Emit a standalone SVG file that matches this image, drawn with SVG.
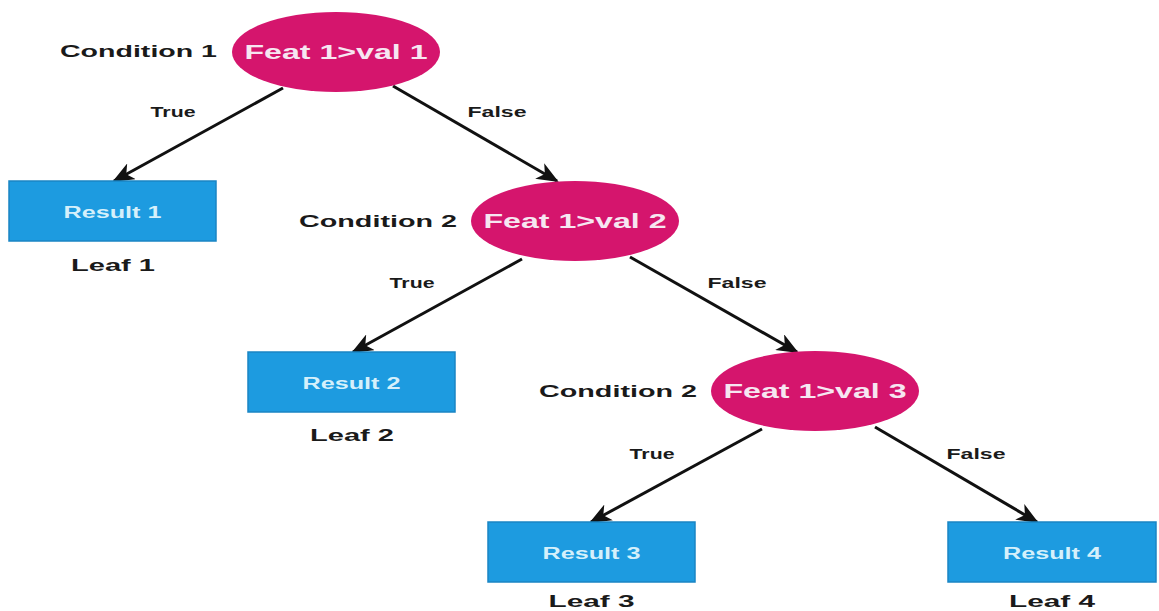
<svg xmlns="http://www.w3.org/2000/svg" width="1159" height="611" viewBox="0 0 1159 611">
<defs>
<marker id="ah" markerWidth="22" markerHeight="18" refX="20" refY="9" orient="auto" markerUnits="userSpaceOnUse" viewBox="0 0 22 18">
<path d="M0,0 L22,9 L0,18 L6,9 Z" fill="#111"/>
</marker>
<style>
.cond{fill:#d5156d;}
.ct{font-family:"Liberation Sans",Arial,sans-serif;font-weight:bold;font-size:20px;fill:#f6e6f1;text-anchor:middle;}
.res{fill:#1d9be0;stroke:#1a85c4;stroke-width:1.5;}
.rt{font-family:"Liberation Sans",Arial,sans-serif;font-weight:bold;font-size:16px;fill:#d5f0fb;text-anchor:middle;}
.lbl{font-family:"Liberation Sans",Arial,sans-serif;font-weight:bold;font-size:17px;fill:#1a1a1a;}
.el{font-family:"Liberation Sans",Arial,sans-serif;font-weight:bold;font-size:15px;fill:#1a1a1a;text-anchor:middle;}
.con{stroke:#111;stroke-width:3;fill:none;marker-end:url(#ah);}
</style>
</defs>
<rect width="1159" height="611" fill="#ffffff"/>
<g id="connectors">
<line class="con" x1="283" y1="88" x2="114" y2="181"/>
<line class="con" x1="393" y1="86" x2="557" y2="181"/>
<line class="con" x1="522" y1="259" x2="353" y2="352"/>
<line class="con" x1="630" y1="257" x2="797" y2="352"/>
<line class="con" x1="762" y1="429" x2="591" y2="522"/>
<line class="con" x1="875" y1="427" x2="1037" y2="522"/>
<text class="el" x="173" y="117" textLength="45" lengthAdjust="spacingAndGlyphs">True</text>
<text class="el" x="497" y="117" textLength="59" lengthAdjust="spacingAndGlyphs">False</text>
<text class="el" x="412" y="288" textLength="45" lengthAdjust="spacingAndGlyphs">True</text>
<text class="el" x="737" y="288" textLength="59" lengthAdjust="spacingAndGlyphs">False</text>
<text class="el" x="652" y="459" textLength="45" lengthAdjust="spacingAndGlyphs">True</text>
<text class="el" x="976" y="459" textLength="59" lengthAdjust="spacingAndGlyphs">False</text>
</g>
<g id="cond1">
<ellipse class="cond" cx="336" cy="52" rx="104" ry="40"/>
<text class="ct" x="336" y="59" textLength="183" lengthAdjust="spacingAndGlyphs">Feat 1&gt;val 1</text>
<text class="lbl" x="60" y="57" textLength="157" lengthAdjust="spacingAndGlyphs">Condition 1</text>
</g>
<g id="cond2">
<ellipse class="cond" cx="575" cy="221" rx="104" ry="40"/>
<text class="ct" x="575" y="228" textLength="183" lengthAdjust="spacingAndGlyphs">Feat 1&gt;val 2</text>
<text class="lbl" x="299" y="227" textLength="158" lengthAdjust="spacingAndGlyphs">Condition 2</text>
</g>
<g id="cond3">
<ellipse class="cond" cx="815" cy="391" rx="104" ry="40"/>
<text class="ct" x="815" y="398" textLength="183" lengthAdjust="spacingAndGlyphs">Feat 1&gt;val 3</text>
<text class="lbl" x="539" y="397" textLength="158" lengthAdjust="spacingAndGlyphs">Condition 2</text>
</g>
<g id="leaf1">
<rect class="res" x="9" y="181" width="207" height="60"/>
<text class="rt" x="112.5" y="218" textLength="98" lengthAdjust="spacingAndGlyphs">Result 1</text>
<text class="lbl" x="113" y="271" text-anchor="middle" textLength="84" lengthAdjust="spacingAndGlyphs">Leaf 1</text>
</g>
<g id="leaf2">
<rect class="res" x="248" y="352" width="207" height="60"/>
<text class="rt" x="351.5" y="389" textLength="98" lengthAdjust="spacingAndGlyphs">Result 2</text>
<text class="lbl" x="352" y="441" text-anchor="middle" textLength="84" lengthAdjust="spacingAndGlyphs">Leaf 2</text>
</g>
<g id="leaf3">
<rect class="res" x="488" y="522" width="207" height="60"/>
<text class="rt" x="591.5" y="559" textLength="98" lengthAdjust="spacingAndGlyphs">Result 3</text>
<text class="lbl" x="591.5" y="607" text-anchor="middle" textLength="86" lengthAdjust="spacingAndGlyphs">Leaf 3</text>
</g>
<g id="leaf4">
<rect class="res" x="948" y="522" width="208" height="60"/>
<text class="rt" x="1052" y="559" textLength="98" lengthAdjust="spacingAndGlyphs">Result 4</text>
<text class="lbl" x="1052" y="607" text-anchor="middle" textLength="86" lengthAdjust="spacingAndGlyphs">Leaf 4</text>
</g>
</svg>
